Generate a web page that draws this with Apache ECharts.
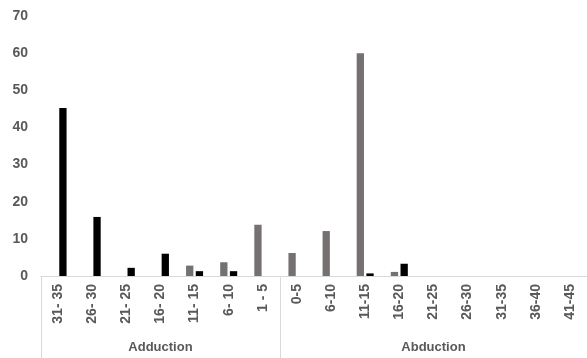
<!DOCTYPE html>
<html>
<head>
<meta charset="utf-8">
<script src="https://cdn.jsdelivr.net/npm/echarts@6/dist/echarts.min.js"></script>
<style>html,body{margin:0;padding:0;background:#fff}#c{width:587px;height:358px}</style>
</head>
<body>
<div id="c"></div>
<script>
var categories = ['31- 35','26- 30','21- 25','16- 20','11- 15','6- 10','1 - 5','0-5','6-10','11-15','16-20','21-25','26-30','31-35','36-40','41-45'];
var groupLabels = ['', '', '', 'Adduction', '', '', '', '', '', '', '', 'Abduction', '', '', '', ''];
var groupStarts = [0, 7];
var graySeries = [null, null, null, null, 2.8, 3.7, 13.8, 6.2, 12.1, 60, 1.1, null, null, null, null, null];
var blackSeries = [45.2, 15.9, 2.2, 6.0, 1.3, 1.3, null, null, null, 0.7, 3.3, null, null, null, null, null];
var yTicks = {min: 0, max: 70, interval: 10};

var chart = echarts.init(document.getElementById('c'), null, {renderer: 'canvas'});
var labelFont = {color: '#595959', fontFamily: 'Liberation Sans', fontWeight: 'bold', fontSize: 14};
var groupFont = {color: '#595959', fontFamily: 'Liberation Sans', fontWeight: 'bold', fontSize: 13};
chart.setOption({
  animation: false,
  grid: {left: 41, right: -5, top: 16, bottom: 82},
  xAxis: [{
    type: 'category',
    data: categories,
    axisLine: {lineStyle: {color: '#d9d9d9', width: 1}},
    axisTick: {show: false},
    axisLabel: Object.assign({rotate: 90, margin: 8, interval: 0}, labelFont)
  }, {
    type: 'category',
    data: groupLabels,
    position: 'bottom',
    axisLine: {show: false},
    axisTick: {show: true, length: 90, lineStyle: {color: '#d9d9d9'},
      interval: function (i) { return groupStarts.indexOf(i) >= 0; }},
    axisLabel: Object.assign({margin: 65, interval: 0}, groupFont)
  }],
  yAxis: {
    type: 'value',
    min: yTicks.min, max: yTicks.max, interval: yTicks.interval,
    splitLine: {show: false},
    axisLine: {show: false},
    axisTick: {show: false},
    axisLabel: Object.assign({margin: 13}, labelFont)
  },
  series: [{
    type: 'bar', data: graySeries, barWidth: 7.3, barGap: '33%',
    itemStyle: {color: '#767171'}
  }, {
    type: 'bar', data: blackSeries, barWidth: 7.3, barGap: '33%',
    itemStyle: {color: '#000000'}
  }]
});
</script>
</body>
</html>
